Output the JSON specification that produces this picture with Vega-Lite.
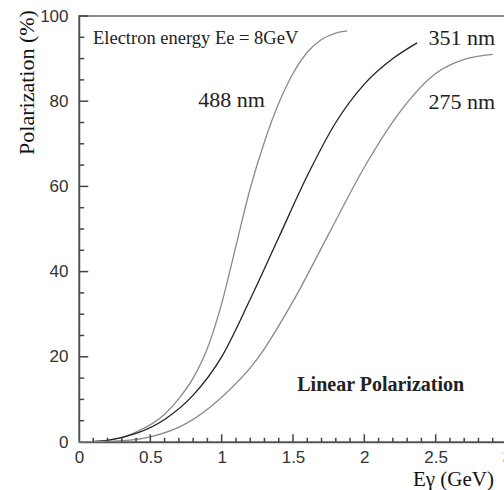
{
  "$schema": "https://vega.github.io/schema/vega-lite/v6.json",
  "autosize": {"type": "none"},
  "width": 428,
  "height": 426,
  "padding": {"left": 79, "top": 16, "right": 0, "bottom": 48},
  "background": "white",
  "config": {
    "view": {"stroke": "#666", "strokeWidth": 1.5},
    "axis": {"grid": false, "domainColor": "#555", "domainWidth": 1.5,
             "labelFont": "Liberation Sans", "labelFontSize": 17, "labelColor": "#333",
             "titleFont": "Liberation Serif", "titleFontWeight": "normal", "titleColor": "#111"}
  },
  "layer": [
    {
      "data": {"values": [
        {"wl": "488 nm", "e": 0, "p": 0},
        {"wl": "488 nm", "e": 0.2, "p": 0.4},
        {"wl": "488 nm", "e": 0.4, "p": 2.3},
        {"wl": "488 nm", "e": 0.6, "p": 6.5},
        {"wl": "488 nm", "e": 0.7, "p": 10.2},
        {"wl": "488 nm", "e": 0.8, "p": 15},
        {"wl": "488 nm", "e": 0.9, "p": 22},
        {"wl": "488 nm", "e": 1.0, "p": 32.5},
        {"wl": "488 nm", "e": 1.1, "p": 46},
        {"wl": "488 nm", "e": 1.2, "p": 59.5},
        {"wl": "488 nm", "e": 1.3, "p": 70.5},
        {"wl": "488 nm", "e": 1.4, "p": 79.5},
        {"wl": "488 nm", "e": 1.5, "p": 86.5},
        {"wl": "488 nm", "e": 1.6, "p": 91.5},
        {"wl": "488 nm", "e": 1.7, "p": 94.5},
        {"wl": "488 nm", "e": 1.8, "p": 96},
        {"wl": "488 nm", "e": 1.88, "p": 96.5},
        {"wl": "351 nm", "e": 0, "p": 0},
        {"wl": "351 nm", "e": 0.2, "p": 0.4},
        {"wl": "351 nm", "e": 0.4, "p": 2},
        {"wl": "351 nm", "e": 0.6, "p": 5.3},
        {"wl": "351 nm", "e": 0.8, "p": 11},
        {"wl": "351 nm", "e": 1.0, "p": 20},
        {"wl": "351 nm", "e": 1.2, "p": 33.5},
        {"wl": "351 nm", "e": 1.4, "p": 48},
        {"wl": "351 nm", "e": 1.6, "p": 62.5},
        {"wl": "351 nm", "e": 1.8, "p": 75},
        {"wl": "351 nm", "e": 2.0, "p": 84},
        {"wl": "351 nm", "e": 2.2, "p": 90},
        {"wl": "351 nm", "e": 2.37, "p": 93.7},
        {"wl": "275 nm", "e": 0, "p": 0},
        {"wl": "275 nm", "e": 0.3, "p": 0.3},
        {"wl": "275 nm", "e": 0.5, "p": 1.2},
        {"wl": "275 nm", "e": 0.75, "p": 4.3},
        {"wl": "275 nm", "e": 1.0, "p": 10.5},
        {"wl": "275 nm", "e": 1.25, "p": 19.5},
        {"wl": "275 nm", "e": 1.5, "p": 33},
        {"wl": "275 nm", "e": 1.75, "p": 48.8},
        {"wl": "275 nm", "e": 2.0, "p": 64.5},
        {"wl": "275 nm", "e": 2.25, "p": 77.5},
        {"wl": "275 nm", "e": 2.5, "p": 86.5},
        {"wl": "275 nm", "e": 2.7, "p": 89.8},
        {"wl": "275 nm", "e": 2.9, "p": 91}
      ]},
      "mark": {"type": "line", "interpolate": "monotone", "strokeWidth": 1.3},
      "encoding": {
        "x": {"field": "e", "type": "quantitative",
              "scale": {"domain": [0, 3], "nice": false},
              "axis": {
                "orient": "bottom",
                "values": [0, 0.5, 1, 1.5, 2, 2.5, 3],
                "format": "~g",
                "ticks": false,
                "labelPadding": 7,
                "labelFlush": false,
                "labelOverlap": false,
                "title": "Eγ (GeV)",
                "titleFontSize": 21,
                "titleX": 374,
                "titleY": 37,
                "titleAlign": "center",
                "titleBaseline": "middle"
              }},
        "y": {"field": "p", "type": "quantitative",
              "scale": {"domain": [0, 100], "nice": false},
              "axis": {
                "orient": "left",
                "values": [0, 20, 40, 60, 80, 100],
                "ticks": false,
                "labelPadding": 11,
                "labelFlush": false,
                "labelOverlap": false,
                "title": "Polarization (%)",
                "titleFontSize": 22,
                "titleAngle": -90,
                "titleX": -53,
                "titleY": 66,
                "titleAlign": "center",
                "titleBaseline": "middle"
              }},
        "color": {"field": "wl", "type": "nominal", "legend": null,
                  "scale": {"domain": ["488 nm", "351 nm", "275 nm"], "range": ["#8a8a8a", "#222222", "#8a8a8a"]}}
      }
    },
    {
      "data": {"values": [{"v": 0.5}, {"v": 1}, {"v": 1.5}, {"v": 2}, {"v": 2.5}, {"v": 3}]},
      "mark": {"type": "rule", "color": "#444", "strokeWidth": 1.5},
      "encoding": {"x": {"field": "v", "type": "quantitative"}, "y": {"datum": 0}, "y2": {"datum": 1.8}}
    },
    {
      "data": {"values": [{"v": 0.1}, {"v": 0.2}, {"v": 0.3}, {"v": 0.4}, {"v": 0.6}, {"v": 0.7}, {"v": 0.8}, {"v": 0.9},
               {"v": 1.1}, {"v": 1.2}, {"v": 1.3}, {"v": 1.4}, {"v": 1.6}, {"v": 1.7}, {"v": 1.8}, {"v": 1.9},
               {"v": 2.1}, {"v": 2.2}, {"v": 2.3}, {"v": 2.4}, {"v": 2.6}, {"v": 2.7}, {"v": 2.8}, {"v": 2.9}]},
      "mark": {"type": "rule", "color": "#444", "strokeWidth": 1.5},
      "encoding": {"x": {"field": "v", "type": "quantitative"}, "y": {"datum": 0}, "y2": {"datum": 1.0}}
    },
    {
      "data": {"values": [{"v": 20}, {"v": 40}, {"v": 60}, {"v": 80}, {"v": 100}]},
      "mark": {"type": "rule", "color": "#444", "strokeWidth": 1.5},
      "encoding": {"y": {"field": "v", "type": "quantitative"}, "x": {"datum": 0}, "x2": {"datum": 0.065}}
    },
    {
      "data": {"values": [{"v": 5}, {"v": 10}, {"v": 15}, {"v": 25}, {"v": 30}, {"v": 35}, {"v": 45}, {"v": 50},
               {"v": 55}, {"v": 65}, {"v": 70}, {"v": 75}, {"v": 85}, {"v": 90}, {"v": 95}]},
      "mark": {"type": "rule", "color": "#444", "strokeWidth": 1.5},
      "encoding": {"y": {"field": "v", "type": "quantitative"}, "x": {"datum": 0}, "x2": {"datum": 0.036}}
    },
    {
      "data": {"values": [{"e": 0.098, "p": 94.8, "t": "Electron energy Ee = 8GeV"}]},
      "mark": {"type": "text", "align": "left", "baseline": "middle", "font": "Liberation Serif", "fontSize": 18.5, "color": "#222"},
      "encoding": {"x": {"field": "e", "type": "quantitative"}, "y": {"field": "p", "type": "quantitative"}, "text": {"field": "t"}}
    },
    {
      "data": {"values": [
        {"e": 0.835, "p": 80.3, "t": "488 nm"},
        {"e": 2.449, "p": 94.8, "t": "351 nm"},
        {"e": 2.449, "p": 79.8, "t": "275 nm"}
      ]},
      "mark": {"type": "text", "align": "left", "baseline": "middle", "font": "Liberation Serif", "fontSize": 22, "color": "#222"},
      "encoding": {"x": {"field": "e", "type": "quantitative"}, "y": {"field": "p", "type": "quantitative"}, "text": {"field": "t"}}
    },
    {
      "data": {"values": [{"e": 1.53, "p": 13.4, "t": "Linear Polarization"}]},
      "mark": {"type": "text", "align": "left", "baseline": "middle", "font": "Liberation Serif", "fontSize": 20, "fontWeight": "bold", "color": "#222"},
      "encoding": {"x": {"field": "e", "type": "quantitative"}, "y": {"field": "p", "type": "quantitative"}, "text": {"field": "t"}}
    }
  ]
}
